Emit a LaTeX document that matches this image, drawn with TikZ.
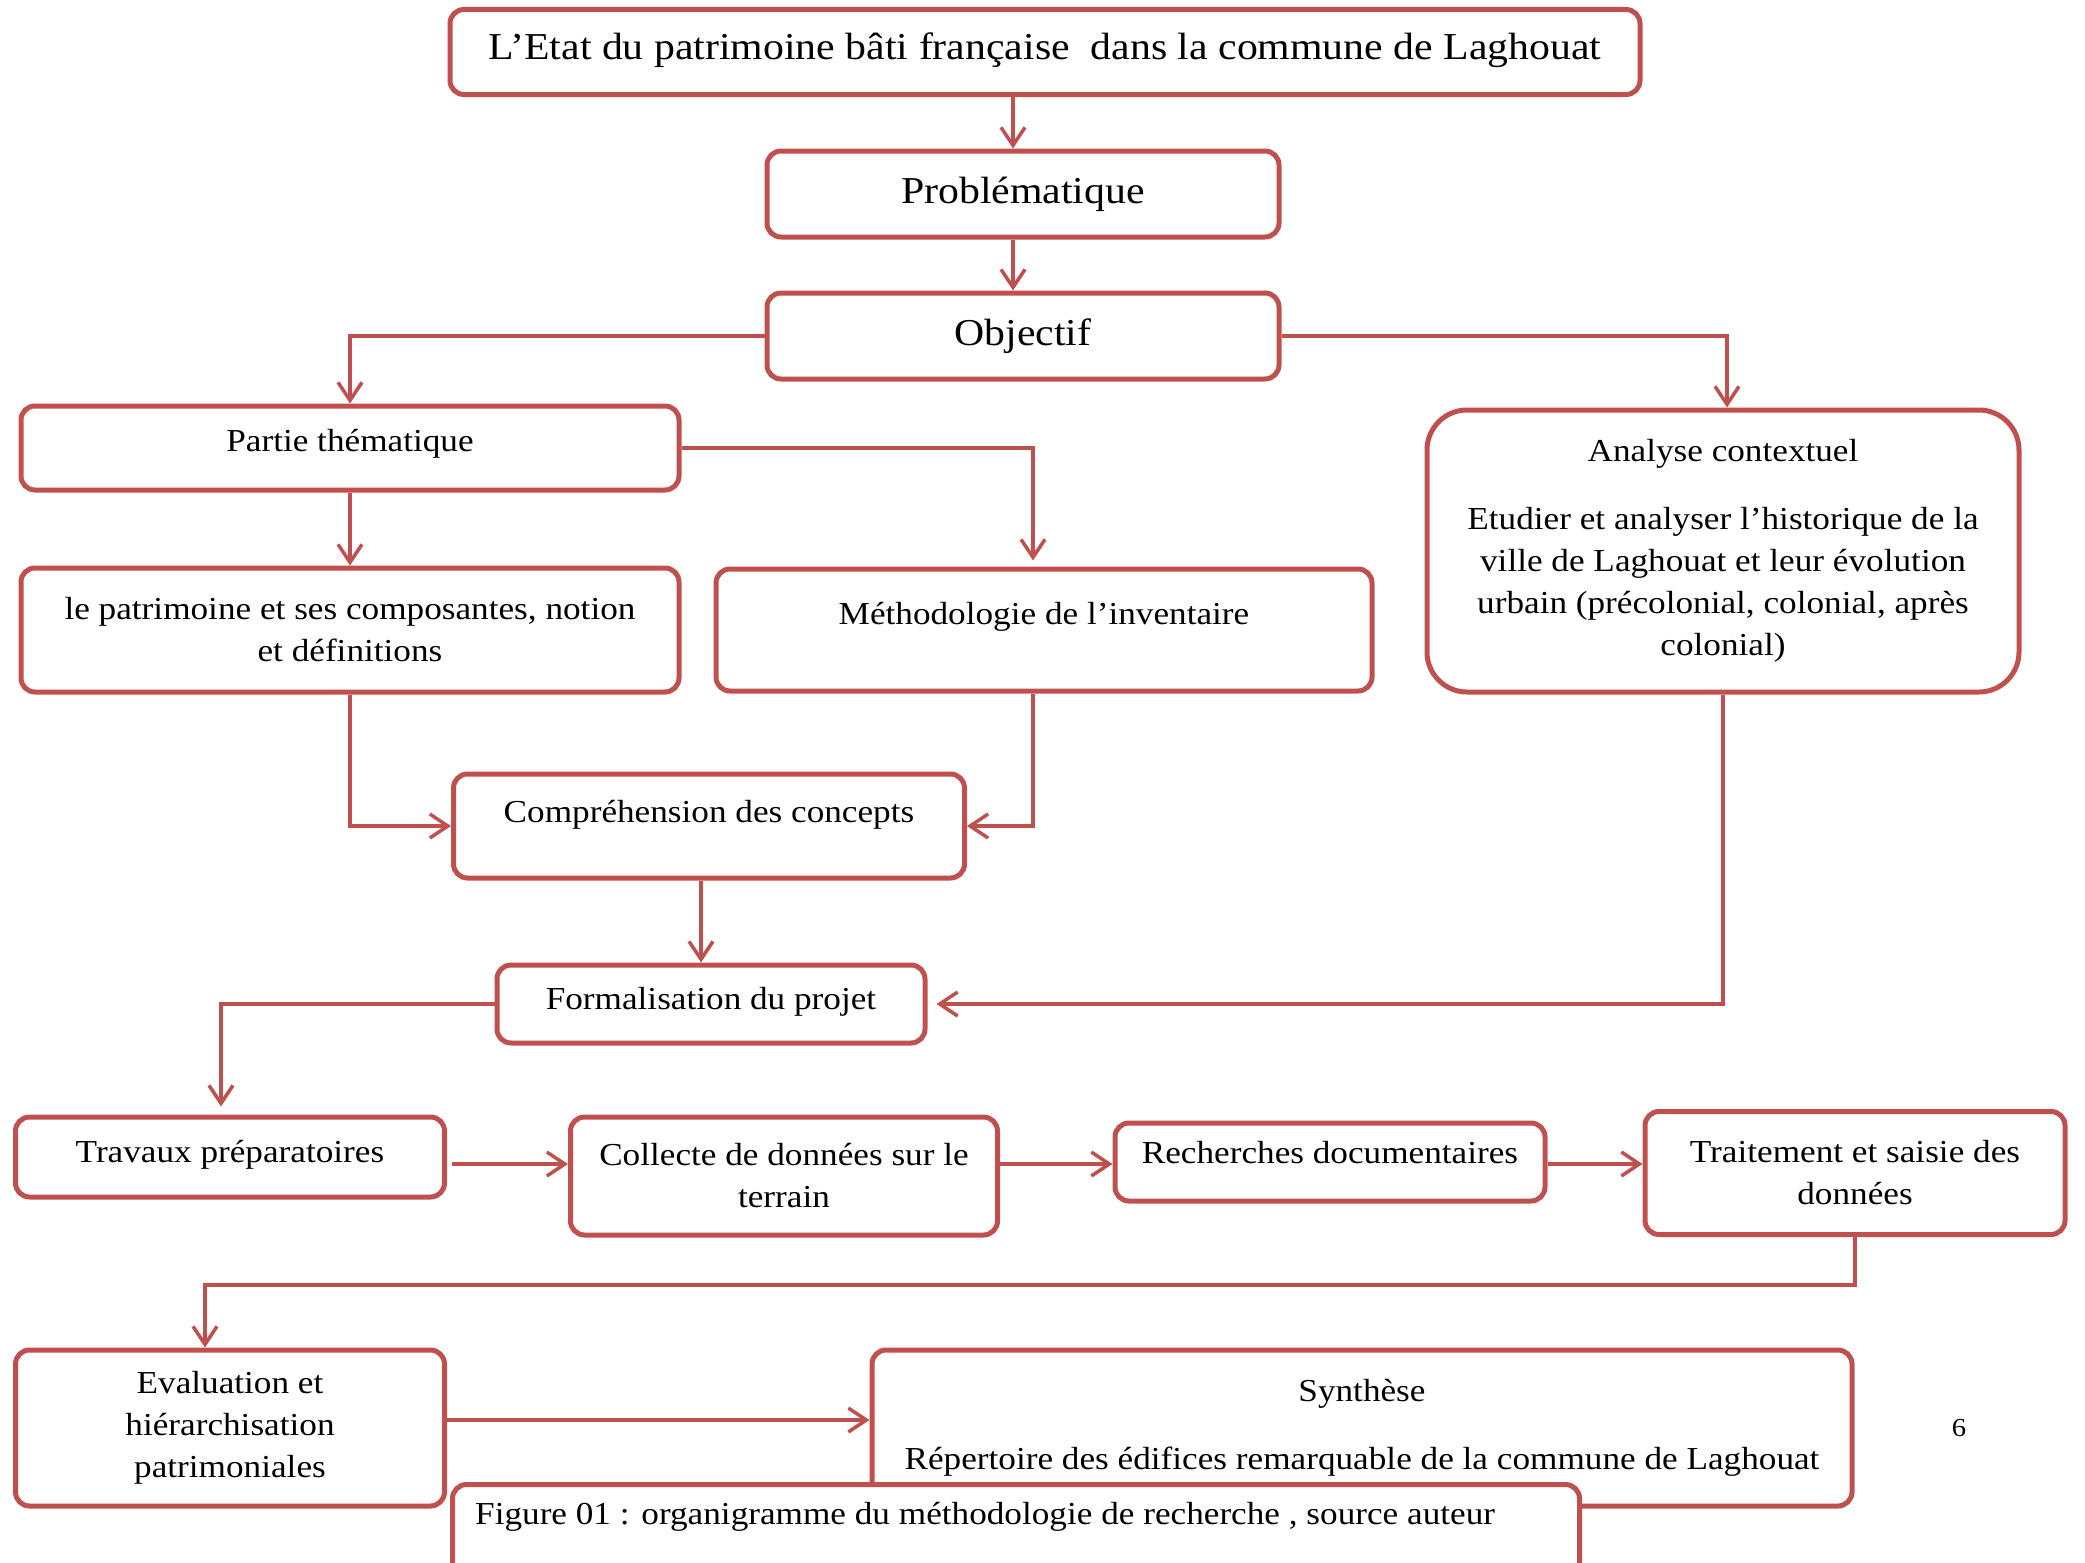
\documentclass[tikz,border=0pt]{standalone}
\usepackage{fontspec}
\setmainfont[FakeStretch=1.1]{Liberation Serif}
\usetikzlibrary{arrows.meta,calc}
\definecolor{boxred}{HTML}{C0504D}
\tikzset{
  box/.style={draw=boxred, line width=5pt, rounded corners=14pt, fill=white,
    align=center, inner sep=0pt, font=\fontsize{32}{42}\selectfont},
  bigbox/.style={box, font=\fontsize{38}{46}\selectfont},
  raise/.style={text depth=#1},
  conn/.style={draw=boxred, line width=3.5pt,
    -{Straight Barb[length=18pt,width=24pt,line width=3.5pt]}},
  plain/.style={draw=boxred, line width=3.5pt}
}
\begin{document}
\begin{tikzpicture}[x=1pt,y=-1pt]
\useasboundingbox (0,0) rectangle (2085,1563);
\clip (0,0) rectangle (2085,1563);

\node[bigbox, raise=11pt, minimum width=1190pt, minimum height=85pt] (title) at (1045,52) {L’Etat du patrimoine bâti française\ \ dans la commune de Laghouat};
\node[bigbox, minimum width=512pt, minimum height=86pt] (prob) at (1023,194) {Problématique};
\node[bigbox, minimum width=512pt, minimum height=86pt] (obj) at (1023,336) {Objectif};

\node[box, raise=16pt, minimum width=658pt, minimum height=84pt] (partie) at (350,448) {Partie thématique};
\node[box, minimum width=658pt, minimum height=124pt] (patri) at (350,630) {le patrimoine et ses composantes, notion\\et définitions};
\node[box, raise=34pt, minimum width=656pt, minimum height=122pt] (metho) at (1044,630) {Méthodologie de l’inventaire};
\node[box, rounded corners=40pt, minimum width=592pt, minimum height=282pt] (analyse) at (1723,551) {Analyse contextuel\\[26pt]Etudier et analyser l’historique de la\\ville de Laghouat et leur évolution\\urbain (précolonial, colonial, après\\colonial)};

\node[box, raise=30pt, minimum width=511pt, minimum height=104pt] (compre) at (709,826) {Compréhension des concepts};
\node[box, raise=12pt, minimum width=428pt, minimum height=78pt] (formal) at (711,1004) {Formalisation du projet};

\node[box, raise=12pt, minimum width=429pt, minimum height=80pt] (travaux) at (230,1157) {Travaux préparatoires};
\node[box, minimum width=427pt, minimum height=118pt] (collecte) at (784,1176) {Collecte de données sur le\\terrain};
\node[box, raise=20pt, minimum width=430pt, minimum height=78pt] (recherche) at (1330,1162) {Recherches documentaires};
\node[box, minimum width=420pt, minimum height=123pt] (traite) at (1855,1173) {Traitement et saisie des\\données};

\node[box, minimum width=429pt, minimum height=156pt] (evalu) at (230,1428) {Evaluation et\\hiérarchisation\\patrimoniales};
\node[box, minimum width=980pt, minimum height=156pt] (synth) at (1362,1428) {Synthèse\\[26pt]Répertoire des édifices remarquable de la commune de Laghouat};

\node[font=\fontsize{26}{30}\selectfont, inner sep=0pt] (page) at (1959,1428) {6};

% connectors
\draw[conn] ([xshift=-10pt]prob.north |- title.south) -- ([xshift=-10pt]prob.north);
\draw[conn] ([xshift=-10pt]obj.north |- prob.south) -- ([xshift=-10pt]obj.north);
\draw[conn] (obj.west) -| (partie.north);
\draw[conn] (obj.east) -| ([xshift=4pt]analyse.north);
\draw[conn] (partie.east) -| ([xshift=-11pt,yshift=6pt]metho.north);
\draw[conn] (partie.south) -- (patri.north);
\draw[conn] (patri.south) |- (compre.west);
\draw[conn] ([xshift=-11pt]metho.south) |- (compre.east);
\draw[conn] ([xshift=-8pt]compre.south) -- ([xshift=-8pt]compre.south |- formal.north);
\draw[conn] (analyse.south) |- ([xshift=9pt]formal.east);
\draw[conn] (formal.west) -| ([xshift=-9pt,yshift=8pt]travaux.north);
\draw[conn] ([xshift=5pt]travaux.east |- 0,1164) -- (collecte.west |- 0,1164);
\draw[conn] (collecte.east |- 0,1164) -- (recherche.west |- 0,1164);
\draw[conn] (recherche.east |- 0,1164) -- (traite.west |- 0,1164);
\coordinate (turn) at (0,1285);
\draw[conn] (traite.south) -- (traite.south |- turn) -| ([xshift=-25pt]evalu.north);
\draw[conn] (evalu.east |- 0,1420) -- (synth.west |- 0,1420);

% caption box
\node[box, anchor=north west, minimum width=1127pt, minimum height=150pt] (capbox) at (450,1482) {};
\node[font=\fontsize{32}{42}\selectfont, anchor=west, inner sep=0pt] (captext) at (475,1517) {Figure 01 : organigramme du méthodologie de recherche , source auteur};
\end{tikzpicture}
\end{document}
